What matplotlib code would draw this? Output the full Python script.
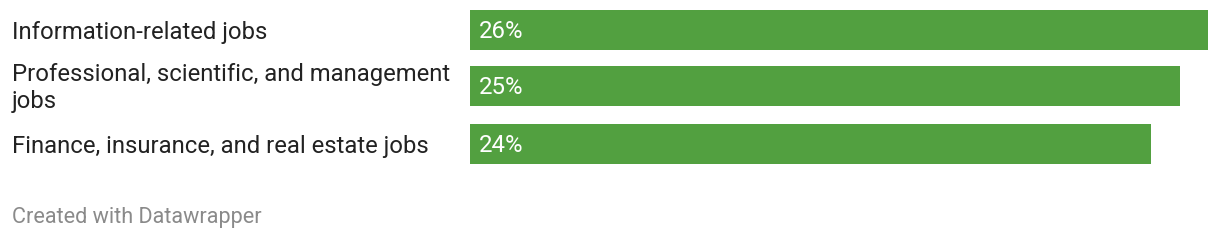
import matplotlib
matplotlib.use("Agg")
import matplotlib.pyplot as plt

plt.rcParams['font.family'] = ['Roboto', 'DejaVu Sans']

categories = ["Information-related jobs",
              "Professional, scientific, and management\njobs",
              "Finance, insurance, and real estate jobs"]
values = [26, 25, 24]
value_labels = ["26%", "25%", "24%"]

W, H = 1220, 240
fig = plt.figure(figsize=(W / 100, H / 100), dpi=100)

# bar area: x from 470px to 1208px, y measured in pixels from top
ax = fig.add_axes([470 / W, 0, 738 / W, 1])
ax.set_xlim(0, 26)
ax.set_ylim(H, 0)
ax.axis('off')

centers = [30, 86, 144]
ax.barh(centers, values, height=40, color='#52a040', linewidth=0)

for c, v, lab, cat in zip(centers, values, value_labels, categories):
    ax.text(0.3, c + 1, lab, color='white', fontsize=17.3, va='center', ha='left')
    fig.text(12 / W, 1 - (c + 2) / H, cat, fontsize=17.2, color='#222222',
             va='center', ha='left', linespacing=1.22)

fig.text(12 / W, 1 - 218 / H, "Created with Datawrapper", fontsize=15.6,
         color='#8a8a8a', va='center', ha='left')

fig.savefig("out.png", dpi=100)
